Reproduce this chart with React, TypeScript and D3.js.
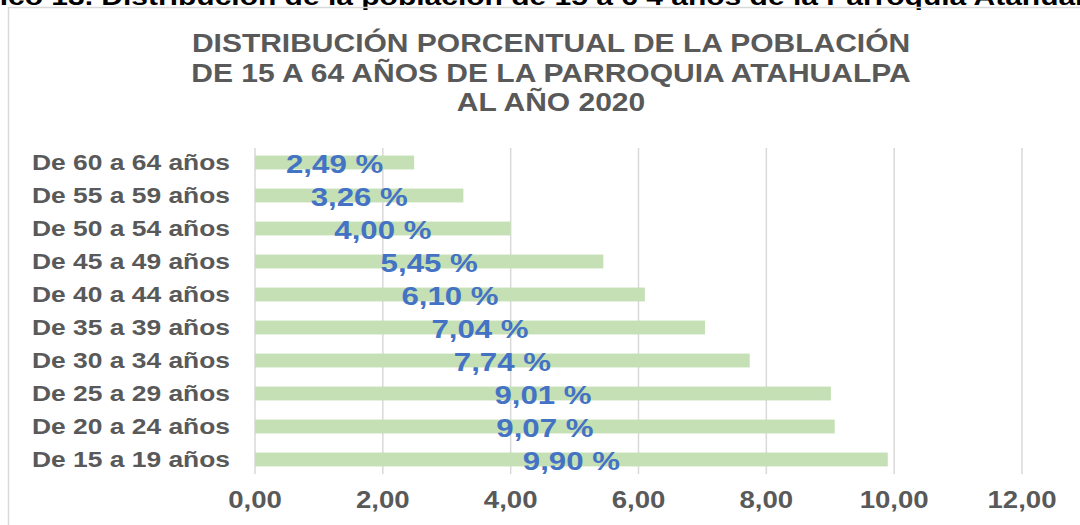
import { scaleLinear, scaleBand } from "d3";

const width = 1080;
const height = 525;
const margin = { top: 146, right: 58, bottom: 49, left: 255 };
const innerWidth = width - margin.left - margin.right;
const innerHeight = height - margin.top - margin.bottom;
const stretch = 1.2; // the original picture is stretched a little sideways

const categories = [
  "De 60 a 64 años",
  "De 55 a 59 años",
  "De 50 a 54 años",
  "De 45 a 49 años",
  "De 40 a 44 años",
  "De 35 a 39 años",
  "De 30 a 34 años",
  "De 25 a 29 años",
  "De 20 a 24 años",
  "De 15 a 19 años",
];
const values = [2.49, 3.26, 4.0, 5.45, 6.1, 7.04, 7.74, 9.01, 9.07, 9.9];
const ticks = [0, 2, 4, 6, 8, 10, 12];
const titleLines = [
  "DISTRIBUCIÓN PORCENTUAL DE LA POBLACIÓN",
  "DE 15 A 64 AÑOS DE LA PARROQUIA ATAHUALPA",
  "AL AÑO 2020",
];

const fmt = (v: number) => v.toFixed(2).replace(".", ",");

type WideTextProps = {
  x: number;
  y: number;
  size: number;
  fill: string;
  anchor?: "start" | "middle" | "end";
  dy?: string;
  sx?: number;
  children: React.ReactNode;
};

function WideText({ x, y, size, fill, anchor = "start", dy, sx = stretch, children }: WideTextProps) {
  return (
    <g transform={`translate(${x}, ${y}) scale(${sx}, 1)`}>
      <text textAnchor={anchor} dy={dy} fontSize={size} fill={fill}>
        {children}
      </text>
    </g>
  );
}

function App() {
  const xScale = scaleLinear().domain([0, 12]).range([0, innerWidth]);
  const yScale = scaleBand()
    .domain(categories)
    .range([0, innerHeight])
    .paddingInner(0.58)
    .paddingOuter(0.29);

  return (
    <svg
      width={width}
      height={height}
      style={{ position: "absolute", left: 0, top: 0, display: "block" }}
      fontFamily="'Liberation Sans', Arial, sans-serif"
      fontWeight={700}
    >
      <rect width={width} height={height} fill="white" />
      <WideText x={-62} y={5} size={24} fill="#000" sx={1.25}>
        Gráfico 13. Distribución de la población de 15 a 6 4 años de la Parroquia Atahualpa
      </WideText>
      <path d={`M8.5,${height} V7.5 H${width}`} fill="none" stroke="#d9d9d9" strokeWidth={1.5} />
      {titleLines.map((t, i) => (
        <WideText key={t} x={551} y={52 + i * 29.5} size={25} fill="#595959" anchor="middle">
          {t}
        </WideText>
      ))}
      <g transform={`translate(${margin.left}, ${margin.top})`}>
        {ticks.map((t) => (
          <g key={t} transform={`translate(${xScale(t)}, 0)`}>
            <line y1={2} y2={innerHeight - 2} stroke="#d9d9d9" strokeWidth={1.5} />
            <WideText x={0} y={innerHeight + 32} size={23} fill="#595959" anchor="middle">
              {fmt(t)}
            </WideText>
          </g>
        ))}
        {categories.map((c, i) => {
          const y = yScale(c) ?? 0;
          const bw = yScale.bandwidth();
          const w = xScale(values[i]);
          return (
            <g key={c} transform={`translate(0, ${y})`}>
              <rect x={0} width={w} height={bw} fill="#c5e0b4" />
              <WideText x={-25} y={bw / 2} dy="0.36em" size={22} fill="#595959" anchor="end">
                {c}
              </WideText>
              <WideText x={w / 2} y={bw / 2 + 1} dy="0.36em" size={26} fill="#4472c4" anchor="middle">
                {fmt(values[i])} %
              </WideText>
            </g>
          );
        })}
      </g>
    </svg>
  );
}

export default App;
